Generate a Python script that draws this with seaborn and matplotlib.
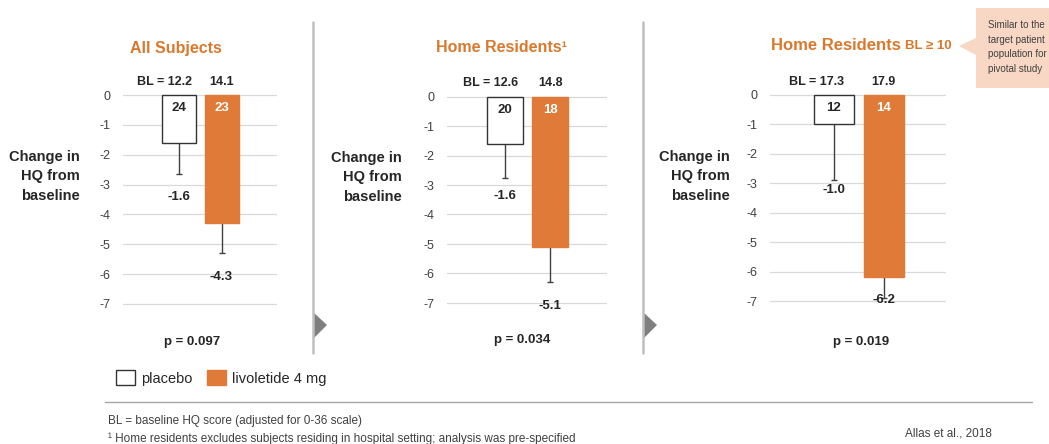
import matplotlib
matplotlib.use('Agg')
import matplotlib.pyplot as plt
from matplotlib.patches import Patch, Polygon
from matplotlib.lines import Line2D
import seaborn as sns
import pandas as pd

# Chart values
panel_titles = ["All Subjects", "Home Residents\u00b9", "Home Residents"]
groups = ["placebo", "livoletide 4 mg"]
baseline_hq = [[12.2, 14.1], [12.6, 14.8], [17.3, 17.9]]
n_subjects = [[24, 23], [20, 18], [12, 14]]
mean_change = [[-1.6, -4.3], [-1.6, -5.1], [-1.0, -6.2]]
error_down = [[1.05, 1.0], [1.15, 1.2], [1.9, 0.7]]
p_values = ["0.097", "0.034", "0.019"]
y_ticks = [0, -1, -2, -3, -4, -5, -6, -7]

ORANGE = "#DF7A38"
TITLE_ORANGE = "#D9792E"
DARK = "#262626"
GRAY = "#404040"

W, H = 1049, 444


def fx(x):
    return x / W


def fy(y):
    return 1 - y / H


# Panel layout in pixels (grid span, bar centres, y of 0 and -7, text spots)
layout = [
    dict(left=123, right=277, c0=179, c1=221.5, top=95, bot=304,
         title_x=176, title_y=49, ylab_x=80, ylab_y=176, p_x=192, p_y=342,
         mean_y=[-3.4, -6.1]),
    dict(left=447, right=607, c0=505, c1=550, top=96.5, bot=303,
         title_x=502, title_y=48, ylab_x=402, ylab_y=177, p_x=522, p_y=340,
         mean_y=[-3.37, -7.1]),
    dict(left=770, right=946, c0=833.5, c1=883.5, top=95, bot=301,
         title_x=901, title_y=45, ylab_x=730, ylab_y=176, p_x=861, p_y=342,
         mean_y=[-3.23, -6.97]),
]

sns.set_theme(style='white')
plt.rcParams['font.family'] = ['Liberation Sans', 'DejaVu Sans']

fig = plt.figure(figsize=(W / 100, H / 100), dpi=100)

for i, lay in enumerate(layout):
    unit = (lay['bot'] - lay['top']) / 7
    ax_top = lay['top'] - 0.2 * unit
    ax_bot = lay['bot'] + 0.2 * unit
    ax = fig.add_axes([fx(lay['left']), fy(ax_bot), (lay['right'] - lay['left']) / W,
                       (ax_bot - ax_top) / H])

    df = pd.DataFrame({'group': groups, 'change': mean_change[i]})
    sns.barplot(data=df, x='group', y='change', hue='group', palette=['white', ORANGE],
                width=0.8, saturation=1, legend=False, ax=ax, zorder=3)
    ax.patches[0].set_edgecolor('#333333')
    ax.patches[0].set_linewidth(1.0)
    ax.patches[1].set_edgecolor(ORANGE)

    # error bars only point downwards
    eb = ax.errorbar([0, 1], mean_change[i], yerr=[error_down[i], [0, 0]], fmt='none',
                     ecolor=GRAY, elinewidth=1, capsize=2, capthick=1, zorder=2)
    eb[1][1].set_visible(False)

    ux = lay['c1'] - lay['c0']
    ax.set_xlim((lay['left'] - lay['c0']) / ux, (lay['right'] - lay['c0']) / ux)
    ax.set_ylim(-7.2, 0.2)
    ax.set_yticks(y_ticks)
    ax.set_yticklabels([str(t) for t in y_ticks])
    ax.set_xticks([])
    ax.set_xlabel('')
    ax.set_ylabel('')
    ax.grid(axis='y', color='#D9D9D9', lw=0.9)
    ax.set_axisbelow(True)
    sns.despine(ax=ax, left=True, bottom=True)
    ax.tick_params(axis='y', length=0, pad=9, labelsize=9, labelcolor=GRAY)

    # baseline labels above bars
    ax.text(-0.33, 0.45, f"BL = {baseline_hq[i][0]}", ha='center', va='center',
            fontsize=9, fontweight='bold', color=DARK, clip_on=False)
    ax.text(1, 0.45, f"{baseline_hq[i][1]}", ha='center', va='center',
            fontsize=9, fontweight='bold', color=DARK, clip_on=False)
    # n inside bars
    ax.text(0, -0.45, str(n_subjects[i][0]), ha='center', va='center',
            fontsize=9.5, fontweight='bold', color=DARK, zorder=5)
    ax.text(1, -0.45, str(n_subjects[i][1]), ha='center', va='center',
            fontsize=9.5, fontweight='bold', color='white', zorder=5)
    # mean labels
    for j in range(2):
        ax.text(j, lay['mean_y'][j], f"{mean_change[i][j]:.1f}", ha='center', va='center',
                fontsize=9.5, fontweight='bold', color=DARK, clip_on=False, zorder=5)

    # y label
    fig.text(fx(lay['ylab_x']), fy(lay['ylab_y']), "Change in\nHQ from\nbaseline",
             ha='right', va='center', fontsize=10.5, fontweight='bold', color=DARK,
             linespacing=1.5)
    # p value
    fig.text(fx(lay['p_x']), fy(lay['p_y']), f"p = {p_values[i]}", ha='center',
             va='center', fontsize=9.5, fontweight='bold', color=DARK)

# Titles
fig.text(fx(layout[0]['title_x']), fy(layout[0]['title_y']), panel_titles[0],
         ha='center', va='center', fontsize=11.5, fontweight='bold', color=TITLE_ORANGE)
fig.text(fx(layout[1]['title_x']), fy(layout[1]['title_y']), panel_titles[1],
         ha='center', va='center', fontsize=11.5, fontweight='bold', color=TITLE_ORANGE)
fig.text(fx(layout[2]['title_x']), fy(layout[2]['title_y']), panel_titles[2],
         ha='right', va='center', fontsize=12, fontweight='bold', color=TITLE_ORANGE)
fig.text(fx(905), fy(layout[2]['title_y'] + 1), "BL \u2265 10",
         ha='left', va='center', fontsize=9.5, fontweight='bold', color=TITLE_ORANGE)

# Separators with arrows
for sx in [313, 643]:
    fig.add_artist(Line2D([fx(sx), fx(sx)], [fy(22), fy(353)], transform=fig.transFigure,
                          color='#BFBFBF', lw=1.8))
    fig.add_artist(Polygon([(fx(sx), fy(312)), (fx(sx + 14), fy(325)), (fx(sx), fy(339))],
                           closed=True, transform=fig.transFigure, facecolor='#7F7F7F',
                           edgecolor='none'))

# Callout box
callout = [(976, 8), (1052, 8), (1052, 88), (976, 88), (976, 55), (959, 46), (976, 38)]
fig.add_artist(Polygon([(fx(x), fy(y)) for x, y in callout], closed=True,
                       transform=fig.transFigure, facecolor='#F8D8C4', edgecolor='none'))
fig.text(fx(988), fy(47), "Similar to the\ntarget patient\npopulation for\npivotal study",
         ha='left', va='center', fontsize=7, color=GRAY, linespacing=1.55)

# Legend
handles = [Patch(facecolor='white', edgecolor='#333333', lw=1),
           Patch(facecolor=ORANGE, edgecolor=ORANGE)]
fig.legend(handles, groups, loc='center left', bbox_to_anchor=(fx(116), fy(378)),
           ncol=2, frameon=False, fontsize=10.5,
           handlelength=1.3, handleheight=1.2,
           handletextpad=0.4, columnspacing=1.0, borderpad=0, borderaxespad=0)

# Bottom rule and footnotes
fig.add_artist(Line2D([fx(105), fx(1032)], [fy(402), fy(402)], transform=fig.transFigure,
                      color='#A6A6A6', lw=1))
fig.text(fx(108), fy(421), "BL = baseline HQ score (adjusted for 0-36 scale)",
         ha='left', va='center', fontsize=8.5, color=GRAY)
fig.text(fx(108), fy(439),
         "\u00b9 Home residents excludes subjects residing in hospital setting; analysis was pre-specified",
         ha='left', va='center', fontsize=8.5, color=GRAY)
fig.text(fx(905), fy(433), "Allas et al., 2018", ha='left', va='center',
         fontsize=8.5, color=GRAY)

fig.savefig('out.png', dpi=100)
